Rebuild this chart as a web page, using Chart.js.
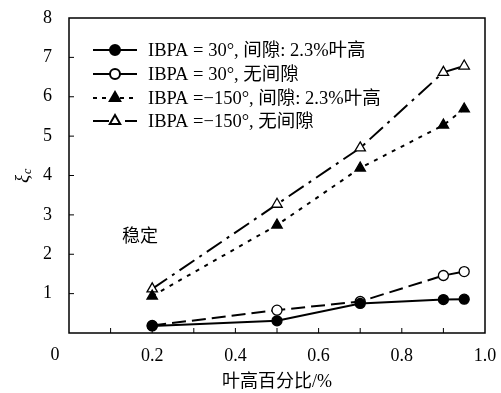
<!DOCTYPE html>
<html>
<head>
<meta charset="utf-8">
<script src="https://cdn.jsdelivr.net/npm/chart.js@4"></script>
<style>
  html, body { margin: 0; padding: 0; background: #fff; }
  #wrap { width: 501px; height: 393px; }
</style>
</head>
<body>
<div id="wrap"><canvas id="myChart"></canvas></div>
<script>
var FONT = "'Liberation Serif', 'Noto Sans CJK SC', serif";

var spanPct = [0.2, 0.5, 0.7, 0.9, 0.95];
var gap30 = [0.18, 0.31, 0.75, 0.85, 0.86];
var noGap30 = [0.19, 0.58, 0.8, 1.46, 1.56];
var gap150 = [0.94, 2.74, 4.19, 5.28, 5.69];
var noGap150 = [1.12, 3.27, 4.7, 6.62, 6.78];
var seriesNames = [
    'IBPA = 30°, 间隙: 2.3%叶高',
    'IBPA = 30°, 无间隙',
    'IBPA =−150°, 间隙: 2.3%叶高',
    'IBPA =−150°, 无间隙'
];
var xTicks = [0, 0.2, 0.4, 0.6, 0.8, 1.0];
var yTicks = [1, 2, 3, 4, 5, 6, 7, 8];

function pts(ys) {
    return spanPct.map(function (x, i) { return { x: x, y: ys[i] }; });
}

var styles = [
    { dash: [], point: 'circle', fill: '#000', r: 5 },
    { dash: [14, 6], point: 'circle', fill: '#fff', r: 5 },
    { dash: [4, 6], point: 'triangle', fill: '#000', r: 6 },
    { dash: [18, 6, 3, 6], point: 'triangle', fill: '#fff', r: 6 }
];
var legendDash = [[], [], [4, 5], [16, 6, 4, 6]];

var datasets = [gap30, noGap30, gap150, noGap150].map(function (ys, i) {
    var s = styles[i];
    return {
        label: seriesNames[i],
        data: pts(ys),
        showLine: true,
        borderColor: '#000',
        borderWidth: 2,
        borderDash: s.dash,
        pointStyle: s.point,
        pointRadius: s.r,
        pointBackgroundColor: s.fill,
        pointBorderColor: '#000',
        pointBorderWidth: 1.3,
        tension: 0
    };
});

var framePlugin = {
    id: 'frame',
    afterDraw: function (chart) {
        var ctx = chart.ctx;
        var a = chart.chartArea;
        var xs = chart.scales.x, ys = chart.scales.y;
        ctx.save();
        ctx.strokeStyle = '#000';
        ctx.lineWidth = 1.5;
        ctx.setLineDash([]);
        ctx.strokeRect(a.left, a.top, a.right - a.left, a.bottom - a.top);
        ctx.lineWidth = 1;
        ctx.beginPath();
        for (var i = 1; i < 10; i++) {
            var px = xs.getPixelForValue(i / 10);
            ctx.moveTo(px, a.bottom);
            ctx.lineTo(px, a.bottom - 5);
        }
        for (var j = 1; j < 8; j++) {
            var py = ys.getPixelForValue(j);
            ctx.moveTo(a.left, py);
            ctx.lineTo(a.left + 5, py);
        }
        ctx.stroke();

        // shared origin label
        ctx.fillStyle = '#000';
        ctx.font = '18px ' + FONT;
        ctx.textAlign = 'center';
        ctx.textBaseline = 'middle';
        ctx.fillText('0', a.left - 14, 355);

        // region note
        ctx.fillText('稳定', 140, 237);

        // y axis title: xi with subscript c
        ctx.translate(23, 176);
        ctx.rotate(-Math.PI / 2);
        ctx.font = 'italic 19px ' + FONT;
        ctx.textAlign = 'left';
        ctx.fillText('ξ', -7, 0);
        ctx.font = 'italic 12px ' + FONT;
        ctx.fillText('c', 2, 5);
        ctx.restore();

        // legend
        ctx.save();
        var rowY = [50, 74, 98, 121];
        chart.data.datasets.forEach(function (ds, k) {
            var y = rowY[k];
            ctx.strokeStyle = '#000';
            ctx.lineWidth = 2;
            ctx.setLineDash(legendDash[k]);
            ctx.beginPath();
            ctx.moveTo(93, y);
            ctx.lineTo(137, y);
            ctx.stroke();
            ctx.setLineDash([]);
            ctx.fillStyle = ds.pointBackgroundColor;
            Chart.helpers.drawPoint(ctx, {
                pointStyle: ds.pointStyle,
                radius: ds.pointRadius,
                borderWidth: 1.3,
                rotation: 0
            }, 115, y);
            ctx.fillStyle = '#000';
            ctx.font = '18.5px ' + FONT;
            ctx.textAlign = 'left';
            ctx.textBaseline = 'middle';
            ctx.fillText(ds.label, 148, y + 1);
        });
        ctx.restore();
    }
};

new Chart(document.getElementById('myChart'), {
    type: 'scatter',
    data: { datasets: datasets },
    options: {
        responsive: true,
        maintainAspectRatio: false,
        animation: false,
        layout: { padding: { top: 18, right: 16, bottom: 0, left: 0 } },
        plugins: { legend: { display: false }, tooltip: { enabled: false } },
        scales: {
            x: {
                type: 'linear',
                min: 0,
                max: 1,
                afterBuildTicks: function (s) { s.ticks = xTicks.map(function (v) { return { value: v }; }); },
                afterFit: function (s) { s.height = 60; },
                grid: { display: false, drawTicks: true, tickLength: 12 },
                border: { display: false },
                ticks: {
                    color: '#000',
                    font: { family: FONT, size: 18 },
                    padding: 0,
                    maxRotation: 0,
                    callback: function (v) { return v === 0 ? '' : v.toFixed(1); }
                },
                title: {
                    display: true,
                    text: '叶高百分比/%',
                    color: '#000',
                    font: { family: FONT, size: 18 },
                    padding: { top: 2, bottom: 0 }
                }
            },
            y: {
                min: 0,
                max: 8,
                afterBuildTicks: function (s) { s.ticks = yTicks.map(function (v) { return { value: v }; }); },
                afterFit: function (s) { s.width = 69; },
                grid: { display: false, drawTicks: true, tickLength: 17 },
                border: { display: false },
                ticks: {
                    color: '#000',
                    font: { family: FONT, size: 18 },
                    padding: 0
                }
            }
        }
    },
    plugins: [framePlugin]
});
</script>
</body>
</html>
